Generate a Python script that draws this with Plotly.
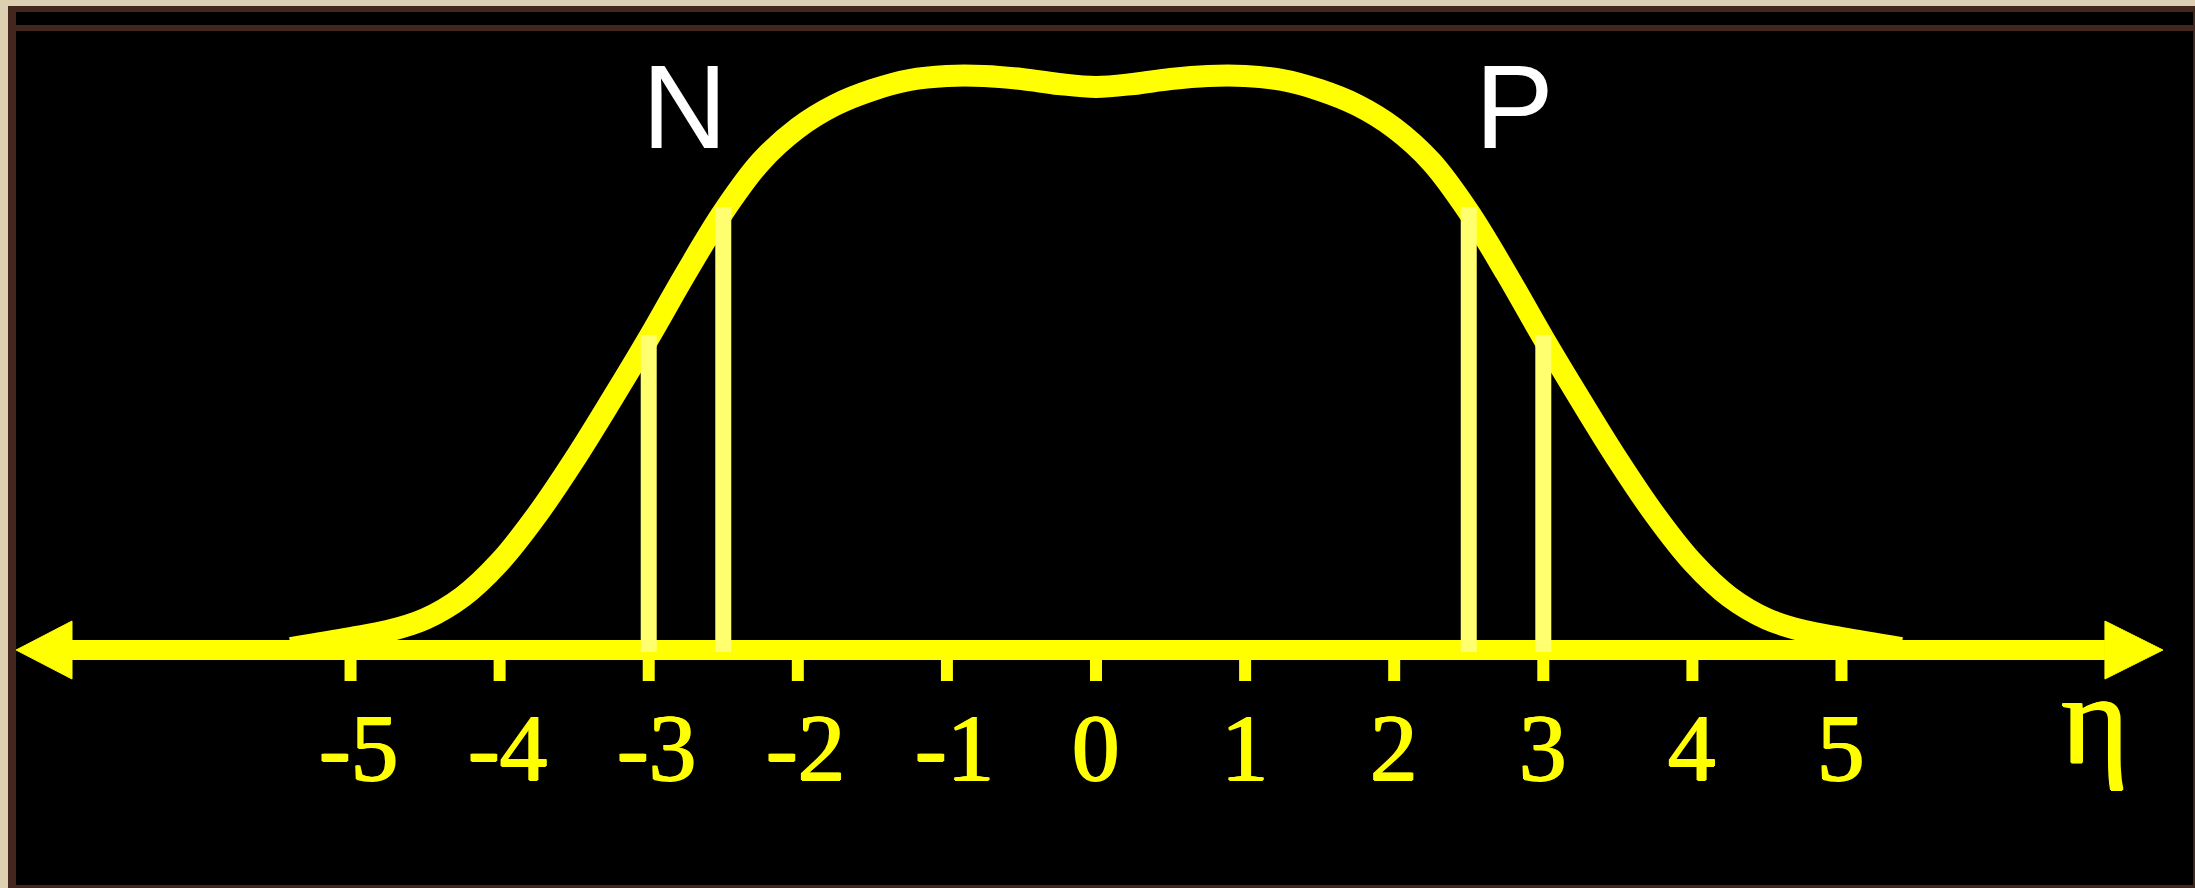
import plotly.graph_objects as go

# ---------------- data ----------------
curve_x = [-5.4, -5.0, -4.75, -4.5, -4.25, -4.0, -3.75, -3.5, -3.25, -3.0, -2.75, -2.5,
           -2.25, -2.0, -1.75, -1.5, -1.25, -1.0, -0.75, -0.5, -0.25, 0.0,
           0.25, 0.5, 0.75, 1.0, 1.25, 1.5, 1.75, 2.0, 2.25, 2.5, 2.75, 3.0, 3.25, 3.5,
           3.75, 4.0, 4.25, 4.5, 4.75, 5.0, 5.4]
curve_y = [0.02, 0.12, 0.19, 0.31, 0.53, 0.88, 1.35, 1.90, 2.50, 3.12, 3.77, 4.38,
           4.88, 5.22, 5.45, 5.60, 5.70, 5.74, 5.74, 5.71, 5.66, 5.63,
           5.66, 5.71, 5.74, 5.74, 5.70, 5.60, 5.45, 5.22, 4.88, 4.38, 3.77, 3.12, 2.50, 1.90,
           1.35, 0.88, 0.53, 0.31, 0.19, 0.12, 0.02]

cut_x = [-3.0, -2.5, 2.5, 3.0]
cut_top = [3.15, 4.43, 4.43, 3.15]

tick_vals = [-5, -4, -3, -2, -1, 0, 1, 2, 3, 4, 5]
tick_text = ["-5", "-4", "-3", "-2", "-1", "0", "1", "2", "3", "4", "5"]

region_labels = ["N", "P"]
region_x = [-2.76, 2.81]

axis_label = "η"

# ---------------- style ----------------
YELLOW = "#FFFF00"
PALE = "#FFFF70"
BEIGE = "#DDD0B2"
BROWN = "#43261D"
SERIF = "Liberation Serif, Times New Roman, serif"
THICKEN = "1px 0px 0px #FFFF00, -1px 0px 0px #FFFF00, 0px 1px 0px #FFFF00"

W, H = 2195, 888
X_RANGE = [-7.351, 7.371]
Y_RANGE = [-2.38, 6.5]

AX_LEFT, AX_RIGHT = -6.868, 6.767
TIP_LEFT, TIP_RIGHT = -7.243, 7.156
HEAD_HALF = 0.29
TICK_TOP, TICK_BOT = -0.10, -0.31

fig = go.Figure()

# axis line
fig.add_trace(go.Scatter(x=[AX_LEFT, AX_RIGHT], y=[0, 0], mode="lines",
                         line=dict(color=YELLOW, width=20), hoverinfo="skip"))
# arrow heads
fig.add_trace(go.Scatter(x=[AX_LEFT, TIP_LEFT, AX_LEFT, AX_LEFT],
                         y=[HEAD_HALF, 0, -HEAD_HALF, HEAD_HALF],
                         mode="lines", fill="toself", fillcolor=YELLOW,
                         line=dict(color=YELLOW, width=1), hoverinfo="skip"))
fig.add_trace(go.Scatter(x=[AX_RIGHT, TIP_RIGHT, AX_RIGHT, AX_RIGHT],
                         y=[HEAD_HALF, 0, -HEAD_HALF, HEAD_HALF],
                         mode="lines", fill="toself", fillcolor=YELLOW,
                         line=dict(color=YELLOW, width=1), hoverinfo="skip"))
# ticks
tx, ty = [], []
for v in tick_vals:
    tx += [v, v, None]
    ty += [TICK_TOP, TICK_BOT, None]
fig.add_trace(go.Scatter(x=tx, y=ty, mode="lines",
                         line=dict(color=YELLOW, width=12), hoverinfo="skip"))

# curve
fig.add_trace(go.Scatter(x=curve_x, y=curve_y, mode="lines",
                         line=dict(color=YELLOW, width=22, shape="spline", smoothing=1.0),
                         hoverinfo="skip"))

# cut lines
vx, vy = [], []
for cx, ct in zip(cut_x, cut_top):
    vx += [cx, cx, None]
    vy += [-0.02, ct, None]
fig.add_trace(go.Scatter(x=vx, y=vy, mode="lines",
                         line=dict(color=PALE, width=16), hoverinfo="skip"))

# tick labels
annotations = []
for v, t in zip(tick_vals, tick_text):
    annotations.append(dict(x=v, y=-0.98, text=t, showarrow=False,
                            xshift=8 if v < 0 else 0,
                            font=dict(family=SERIF, size=95, color=YELLOW, shadow=THICKEN),
                            xanchor="center", yanchor="middle"))
annotations.append(dict(x=6.70, y=-0.68, text=axis_label, showarrow=False,
                        font=dict(family=SERIF, size=130, color=YELLOW, shadow=THICKEN),
                        xanchor="center", yanchor="middle"))
for lab, lx in zip(region_labels, region_x):
    annotations.append(dict(x=lx, y=5.43, text=lab, showarrow=False,
                            font=dict(family="Liberation Sans Narrow, Arial Narrow, Liberation Sans, sans-serif",
                                      size=118, color="white"),
                            xanchor="center", yanchor="middle"))

# frame
shapes = [
    dict(type="rect", xref="paper", yref="paper", x0=8 / W, x1=1, y0=0, y1=1 - 6 / H,
         fillcolor=BROWN, line=dict(width=0), layer="below"),
    dict(type="rect", xref="paper", yref="paper", x0=16 / W, x1=2193 / W, y0=3 / H, y1=1 - 12 / H,
         fillcolor="black", line=dict(width=0), layer="below"),
    dict(type="rect", xref="paper", yref="paper", x0=16 / W, x1=2193 / W, y0=1 - 31 / H, y1=1 - 25 / H,
         fillcolor=BROWN, line=dict(width=0), layer="below"),
]

fig.update_layout(
    width=W, height=H,
    margin=dict(l=0, r=0, t=0, b=0),
    paper_bgcolor=BEIGE,
    plot_bgcolor="rgba(0,0,0,0)",
    showlegend=False,
    hovermode=False,
    xaxis=dict(range=X_RANGE, visible=False, fixedrange=True),
    yaxis=dict(range=Y_RANGE, visible=False, fixedrange=True),
    annotations=annotations,
    shapes=shapes,
)

fig.write_html("out.html", config={"displayModeBar": False},
               post_script="document.body.style.margin='0';document.body.style.overflow='hidden';")
